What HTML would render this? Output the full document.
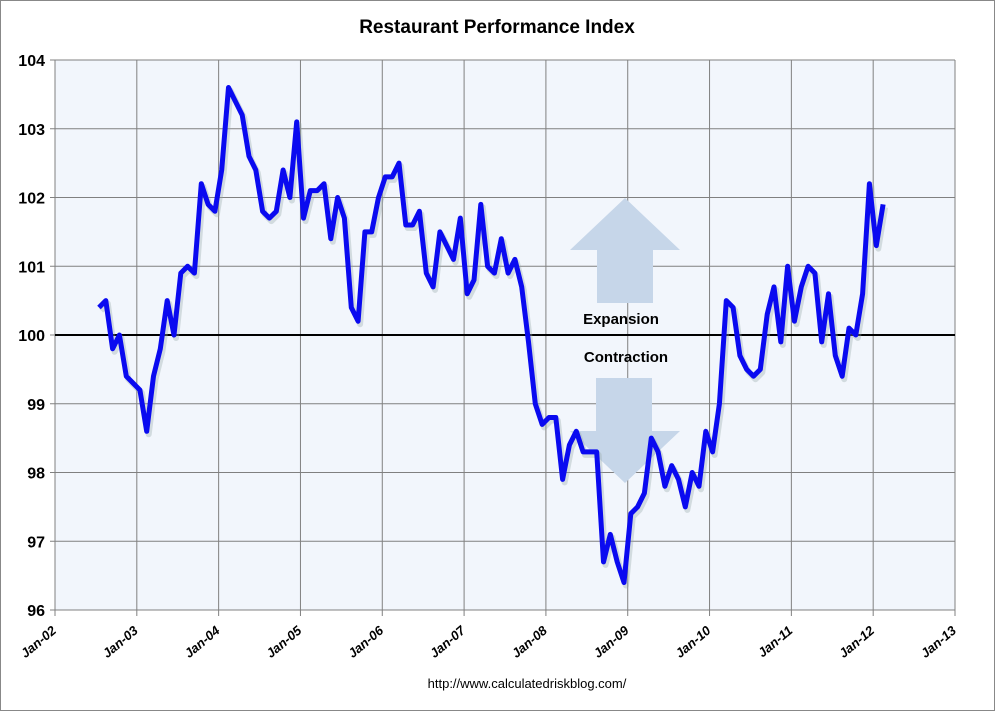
<!DOCTYPE html>
<html><head><meta charset="utf-8">
<style>
body{margin:0;background:#fff;}
svg{display:block;font-family:"Liberation Sans",sans-serif;}
</style></head>
<body>
<svg id="chart" width="995" height="711" viewBox="0 0 995 711">
<rect x="0.5" y="0.5" width="994" height="710" fill="#fff" stroke="#888"/>
<text x="497" y="33" text-anchor="middle" font-size="19" font-weight="bold" fill="#000">Restaurant Performance Index</text>
<rect x="55" y="60" width="900" height="550" fill="#f2f6fc"/>
<g id="grid"></g>
<g id="arrows">
<polygon points="625,198 680,250 653,250 653,303 597,303 597,250 570,250" fill="#c6d6e9"/>
<polygon points="596,378 652,378 652,431 680,431 625,483 570,431 596,431" fill="#c6d6e9"/>
</g>
<line x1="55" y1="335" x2="955" y2="335" stroke="#000" stroke-width="2"/>
<text x="621" y="324" text-anchor="middle" font-size="15" font-weight="bold">Expansion</text>
<text x="626" y="362" text-anchor="middle" font-size="15" font-weight="bold">Contraction</text>
<g id="yticks"></g>
<g id="xticks"></g>
<polyline id="shadow" fill="none" stroke="#9aa" stroke-opacity="0.35" stroke-width="6" stroke-linejoin="round" transform="translate(2,3)"/>
<polyline id="series" fill="none" stroke="#0a0af0" stroke-width="5" stroke-linejoin="round"/>
<text x="527" y="688" text-anchor="middle" font-size="13" fill="#000">http://www.calculatedriskblog.com/</text>
</svg>
<script>
const yTicks=[96,97,98,99,100,101,102,103,104];
const xLabels=["Jan-02","Jan-03","Jan-04","Jan-05","Jan-06","Jan-07","Jan-08","Jan-09","Jan-10","Jan-11","Jan-12","Jan-13"];
const startMonth=6.45; // Jul 2002 (mid-month offset) in months since Jan 2002
const values=[100.4,100.5,99.8,100.0,99.4,99.3,
99.2,98.6,99.4,99.8,100.5,100.0,100.9,101.0,100.9,102.2,101.9,101.8,
102.4,103.6,103.4,103.2,102.6,102.4,101.8,101.7,101.8,102.4,102.0,103.1,
101.7,102.1,102.1,102.2,101.4,102.0,101.7,100.4,100.2,101.5,101.5,102.0,
102.3,102.3,102.5,101.6,101.6,101.8,100.9,100.7,101.5,101.3,101.1,101.7,
100.6,100.8,101.9,101.0,100.9,101.4,100.9,101.1,100.7,99.9,99.0,98.7,
98.8,98.8,97.9,98.4,98.6,98.3,98.3,98.3,96.7,97.1,96.7,96.4,
97.4,97.5,97.7,98.5,98.3,97.8,98.1,97.9,97.5,98.0,97.8,98.6,
98.3,99.0,100.5,100.4,99.7,99.5,99.4,99.5,100.3,100.7,99.9,101.0,
100.2,100.7,101.0,100.9,99.9,100.6,99.7,99.4,100.1,100.0,100.6,102.2,
101.3,101.9];
const X0=55,X1=955,Y0=610,Y1=60;
const x=m=>X0+(X1-X0)*m/132;
const y=v=>Y0-(Y0-Y1)*(v-96)/8;
const NS="http://www.w3.org/2000/svg";
const grid=document.getElementById('grid'),yt=document.getElementById('yticks'),xt=document.getElementById('xticks');
yTicks.forEach(t=>{
 const l=document.createElementNS(NS,'line');
 
 
 l.setAttribute('x1',X0-5);l.setAttribute('x2',X1);l.setAttribute('y1',y(t));l.setAttribute('y2',y(t));
 l.setAttribute('stroke','#808080');l.setAttribute('stroke-width','1');
 grid.appendChild(l);
 const tx=document.createElementNS(NS,'text');
 
 
 tx.setAttribute('x',X0-10);tx.setAttribute('y',y(t)+6);tx.setAttribute('text-anchor','end');
 tx.setAttribute('font-size','16');tx.setAttribute('font-weight','bold');
 tx.textContent=t;yt.appendChild(tx);
});
xLabels.forEach((lab,i)=>{
 const xx=x(i*12);
 const l=document.createElementNS(NS,'line');
 
 
 l.setAttribute('x1',xx);l.setAttribute('x2',xx);l.setAttribute('y1',Y1);l.setAttribute('y2',Y0+6);
 l.setAttribute('stroke','#808080');l.setAttribute('stroke-width','1');
 grid.appendChild(l);
 const tx=document.createElementNS(NS,'text');
 
 
 tx.setAttribute('transform','translate('+(xx+2)+','+(Y0+22)+') rotate(-40)');
 tx.setAttribute('text-anchor','end');tx.setAttribute('font-size','13');tx.setAttribute('font-style','italic');tx.setAttribute('font-weight','bold');
 tx.textContent=lab;xt.appendChild(tx);
});
const pts=values.map((v,i)=>x(startMonth+i).toFixed(1)+','+y(v).toFixed(1)).join(' ');
document.getElementById('series').setAttribute('points',pts);
document.getElementById('shadow').setAttribute('points',pts);
</script>
</body></html>
